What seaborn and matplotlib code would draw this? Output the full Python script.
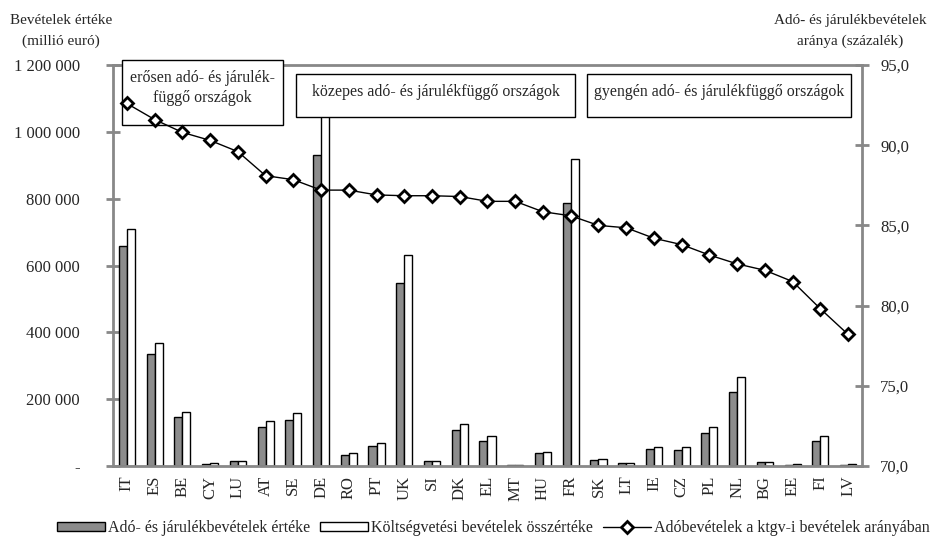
import numpy as np
import pandas as pd
import seaborn as sns
import matplotlib.pyplot as plt
from matplotlib.patches import Patch, Rectangle
from matplotlib.lines import Line2D
from matplotlib.ticker import FuncFormatter, FixedLocator

countries = ["IT", "ES", "BE", "CY", "LU", "AT", "SE", "DE", "RO", "PT", "UK", "SI", "DK",
             "EL", "MT", "HU", "FR", "SK", "LT", "IE", "CZ", "PL", "NL", "BG", "EE", "FI", "LV"]
# Adó- és járulékbevételek értéke (millió euró)
tax_rev = [658000, 334000, 147000, 6000, 15000, 117000, 138000, 932000, 33000, 60000,
           547000, 15000, 108000, 75000, 2000, 39000, 788000, 18000, 9000, 51000,
           48000, 99000, 220000, 11000, 4000, 75000, 4000]
# Költségvetési bevételek összértéke (millió euró)
total_rev = [710000, 367000, 162000, 9000, 15000, 135000, 159000, 1090000, 39000, 69000,
             632000, 15000, 126000, 90000, 2500, 42000, 920000, 21000, 9000, 57000,
             57000, 117000, 265000, 13000, 4500, 90000, 6000]
# Adóbevételek a ktgv-i bevételek arányában (%)
ratio = [92.6, 91.6, 90.8, 90.3, 89.6, 88.1, 87.85, 87.2, 87.2, 86.9, 86.85, 86.85, 86.8,
         86.5, 86.5, 85.85, 85.6, 85.0, 84.85, 84.2, 83.8, 83.15, 82.6, 82.2, 81.5, 79.8, 78.2]

lab_tax = "Adó- és járulékbevételek értéke"
lab_tot = "Költségvetési bevételek összértéke"
lab_ratio = "Adóbevételek a ktgv-i bevételek arányában"

df = pd.DataFrame({
    "country": countries * 2,
    "value": tax_rev + total_rev,
    "series": [lab_tax] * len(countries) + [lab_tot] * len(countries),
})

sns.set_style("white")
plt.rcParams["font.family"] = ["Liberation Serif", "DejaVu Serif"]

W, H = 932, 538
fig = plt.figure(figsize=(W / 100, H / 100), dpi=100)
ax = fig.add_axes([113 / W, 72 / H, 749 / W, 401 / H])

grey = "#888888"
sns.barplot(data=df, x="country", y="value", hue="series", order=countries,
            palette={lab_tax: "#8c8c8c", lab_tot: "white"}, width=0.58,
            edgecolor="black", linewidth=1.0, ax=ax, legend=False, zorder=2)

n = len(countries)
ax.set_xlim(-0.5, n - 0.5)
ax.set_ylim(0, 1200000)
ax.set_xlabel("")
ax.set_ylabel("")
ax.set_yticks(np.arange(0, 1200001, 200000))
ax.yaxis.set_major_formatter(FuncFormatter(
    lambda v, p: "-" if v == 0 else f"{int(v):,}".replace(",", " ")))
ax.tick_params(axis="x", which="major", length=0, labelrotation=90, labelsize=12, pad=7)
ax.xaxis.set_minor_locator(FixedLocator(np.arange(-0.5, n, 1.0)))
ax.tick_params(axis="x", which="minor", direction="inout", length=10, width=2, color=grey)
ax.tick_params(axis="y", direction="inout", length=10, width=2, color=grey, labelsize=12, pad=19)
ax.tick_params(axis="y", left=True)

for s in ["top", "right"]:
    ax.spines[s].set_visible(False)
for s in ["left", "bottom"]:
    ax.spines[s].set_color(grey)
    ax.spines[s].set_linewidth(2)

ax2 = ax.twinx()
sns.lineplot(x=np.arange(n), y=ratio, ax=ax2, color="black", lw=1, marker="D",
             markersize=6, markerfacecolor="white", markeredgecolor="black",
             markeredgewidth=2, zorder=5)
ax2.set_ylim(70, 95)
ax2.set_yticks(np.arange(70, 95.1, 5))
ax2.yaxis.set_major_formatter(FuncFormatter(lambda v, p: f"{v:.1f}".replace(".", ",")))
ax2.tick_params(axis="y", direction="inout", length=10, width=2, color=grey, labelsize=12, pad=8)
for s in ["top", "left", "bottom"]:
    ax2.spines[s].set_visible(False)
ax2.spines["right"].set_color(grey)
ax2.spines["right"].set_linewidth(2)
ax2.set_xlim(-0.5, n - 0.5)

# top grey line of plot area
ax2.axhline(95, color=grey, lw=2, zorder=1, clip_on=False)

# group boxes (in figure pixel coords), drawn under the ratio line
def box(x0, y0, x1, y1, text):
    r = Rectangle((x0 / W, 1 - y1 / H), (x1 - x0) / W, (y1 - y0) / H,
                  transform=fig.transFigure, facecolor="white", edgecolor="black",
                  lw=1, zorder=3, clip_on=False)
    ax2.add_patch(r)
    ax2.text((x0 + x1) / 2 / W, 1 - (y0 + 10) / H, text, transform=fig.transFigure,
             ha="center", va="top", fontsize=11.4, linespacing=1.3, zorder=4)

box(122, 60, 283, 125, "erősen adó- és járulék-\nfüggő országok")
box(296, 74, 575, 117, "közepes adó- és járulékfüggő országok")
box(587, 74, 851, 117, "gyengén adó- és járulékfüggő országok")

fig.text(61 / W, 1 - 31 / H, "Bevételek értéke\n(millió euró)", ha="center", va="center",
         fontsize=11, linespacing=1.65)
fig.text(850 / W, 1 - 31 / H, "Adó- és járulékbevételek\naránya (százalék)",
         ha="center", va="center", fontsize=11, linespacing=1.65)

handles = [
    Patch(facecolor="#8c8c8c", edgecolor="black", lw=1),
    Patch(facecolor="white", edgecolor="black", lw=1),
    Line2D([], [], color="black", lw=1, marker="D", markersize=6,
           markerfacecolor="white", markeredgecolor="black", markeredgewidth=2),
]
fig.legend(handles, [lab_tax, lab_tot, lab_ratio], loc="center",
           bbox_to_anchor=(0.5295, 1 - 528 / H), ncol=3, frameon=False, fontsize=11.5,
           handlelength=3.0, handleheight=0.45, columnspacing=0.6, handletextpad=0.2,
           borderpad=0, borderaxespad=0)

fig.savefig("out.png", dpi=100)
